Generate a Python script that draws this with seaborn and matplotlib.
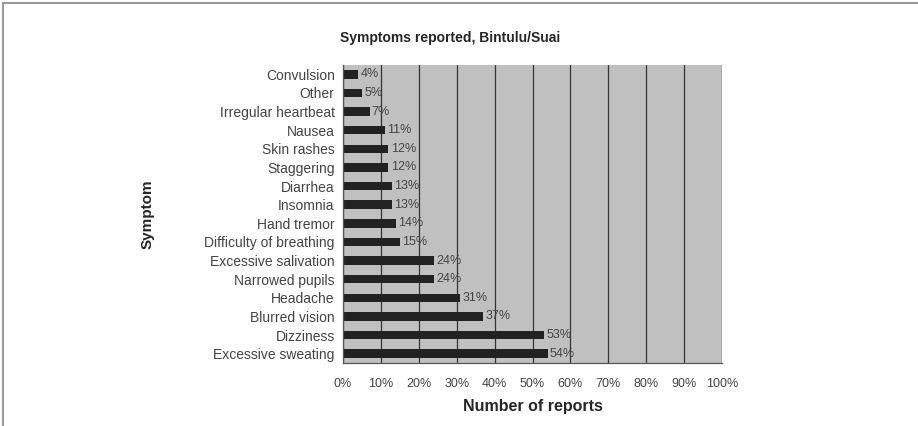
import numpy as np
import pandas as pd
import matplotlib
matplotlib.use('Agg')
import matplotlib.pyplot as plt
import seaborn as sns
from matplotlib.lines import Line2D
from matplotlib.ticker import PercentFormatter

symptoms = ['Convulsion', 'Other', 'Irregular heartbeat', 'Nausea', 'Skin rashes',
            'Staggering', 'Diarrhea', 'Insomnia', 'Hand tremor', 'Difficulty of breathing',
            'Excessive salivation', 'Narrowed pupils', 'Headache', 'Blurred vision',
            'Dizziness', 'Excessive sweating']
percent = [4, 5, 7, 11, 12, 12, 13, 13, 14, 15, 24, 24, 31, 37, 53, 54]

df = pd.DataFrame({'Symptom': symptoms, 'Percent': percent})

sns.set_style('white')
plt.rcParams['font.family'] = ['Liberation Sans', 'DejaVu Sans']

fig = plt.figure(figsize=(9.18, 4.26), dpi=100)
ax = fig.add_axes([343 / 918, 63 / 426, 379 / 918, 298 / 426])

sns.barplot(data=df, x='Percent', y='Symptom', order=symptoms, orient='h',
            color='#222222', width=0.45, saturation=1, edgecolor='#222222',
            linewidth=0, ax=ax)

ax.set_facecolor('#c0c0c0')
ax.set_xlim(0, 100)
ax.set_xticks(np.arange(0, 101, 10))
ax.xaxis.set_major_formatter(PercentFormatter(decimals=0))
ax.grid(axis='x', color='#333333', linewidth=0.9)
ax.set_axisbelow(True)
for side in ['top', 'right']:
    ax.spines[side].set_visible(False)
for side in ['left', 'bottom']:
    ax.spines[side].set_color('#555555')
    ax.spines[side].set_linewidth(0.9)

ax.set_yticks(np.arange(-0.5, len(symptoms), 1), minor=True)
ax.tick_params(axis='x', direction='out', length=3, width=0.8, color='#444444',
               labelsize=9, labelcolor='#444444', pad=8)
ax.tick_params(axis='y', which='major', length=0, labelsize=10, labelcolor='#444444', pad=6)
ax.tick_params(axis='y', which='minor', direction='out', length=3, width=0.8, color='#444444')

for i, v in enumerate(percent):
    ax.text(v + 0.6, i, f'{v}%', va='center', ha='left', fontsize=9, color='#444444')

ax.set_xlabel('Number of reports', fontsize=11.5, fontweight='bold', labelpad=6)
ax.set_ylabel('')
fig.text(148 / 918, 1 - 214 / 426, 'Symptom', rotation=90, ha='center', va='center',
         fontsize=11, fontweight='bold')
fig.text(450 / 918, 1 - 38 / 426, 'Symptoms reported, Bintulu/Suai', ha='center',
         va='center', fontsize=10, fontweight='bold')

# outer frame
fig.add_artist(Line2D([3 / 918, 1], [1 - 3 / 426, 1 - 3 / 426], color='#999999', linewidth=1.5))
fig.add_artist(Line2D([3 / 918, 3 / 918], [0, 1 - 3 / 426], color='#999999', linewidth=1.5))

fig.savefig('out.png', dpi=100)
